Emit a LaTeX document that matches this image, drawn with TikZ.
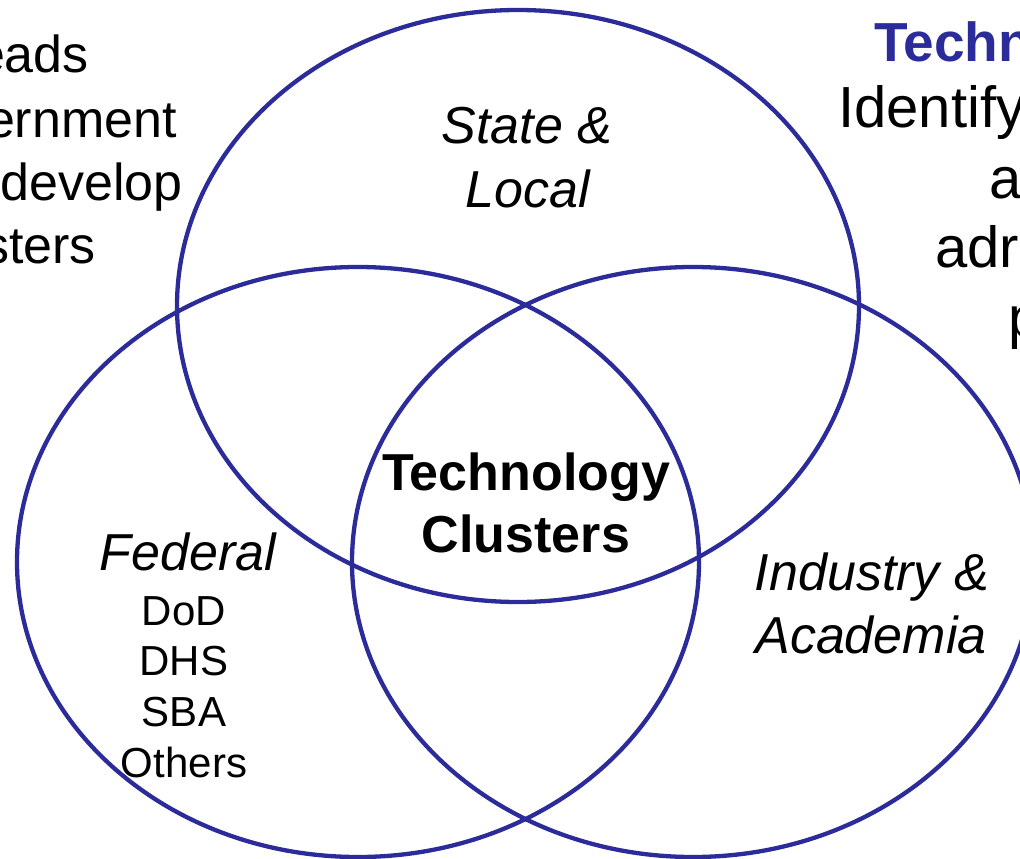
\documentclass[tikz,border=0pt]{standalone}
\usepackage{fontspec}
\setmainfont{Liberation Sans}
\definecolor{vennblue}{RGB}{43,43,153}
\begin{document}
\begin{tikzpicture}[x=1pt,y=-1pt,
  ring/.style={draw=vennblue,line width=4.3pt},
  big/.style={inner sep=0pt,font=\fontsize{52}{62}\selectfont},
  bigit/.style={big,font=\fontsize{52}{62}\selectfont\itshape},
  bigbf/.style={big,font=\fontsize{52}{62}\selectfont\bfseries},
  rside/.style={inner sep=0pt,anchor=base west,font=\fontsize{58}{70}\selectfont},
  small/.style={inner sep=0pt,font=\fontsize{42}{50}\selectfont}]
\useasboundingbox (0,0) rectangle (1020,859);
\clip (0,0) rectangle (1020,859);
% circles
\draw[ring] (518,306) ellipse [x radius=341,y radius=296];
\draw[ring] (358,562) ellipse [x radius=341,y radius=295];
\draw[ring] (693,562) ellipse [x radius=341,y radius=295];
% left cut-off text
\node[big,anchor=base east] (l1) at (89,73) {eads};
\node[big,anchor=base east] (l2) at (177,137) {ernment};
\node[big,anchor=base east] (l3) at (183,200) {develop};
\node[big,anchor=base east] (l4) at (96,263) {sters};
% right cut-off text
\node[inner sep=0pt,anchor=base west,text=vennblue,font=\fontsize{55}{66}\selectfont\bfseries] (r1) at (874,62) {Techn};
\node[rside] (r2) at (838,127) {Identify};
\node[rside] (r3) at (989,198) {a};
\node[rside] (r4) at (935,267) {adr};
\node[rside] (r5) at (1008,337) {p};
% state & local
\node[bigit,anchor=base] (s1) at (527,143) {State \&};
\node[bigit,anchor=base] (s2) at (528,207) {Local};
% center
\node[bigbf,anchor=base] (c1) at (526,490) {Technology};
\node[bigbf,anchor=base] (c2) at (526,552) {Clusters};
% federal
\node[bigit,anchor=base] (f0) at (188,570) {Federal};
\node[small,anchor=base] (f1) at (184,625) {DoD};
\node[small,anchor=base] (f2) at (184,675) {DHS};
\node[small,anchor=base] (f3) at (184,726) {SBA};
\node[small,anchor=base] (f4) at (184,777) {Others};
% industry
\node[bigit,anchor=base] (i1) at (872,590) {Industry \&};
\node[bigit,anchor=base] (i2) at (871,653) {Academia};
\end{tikzpicture}
\end{document}
